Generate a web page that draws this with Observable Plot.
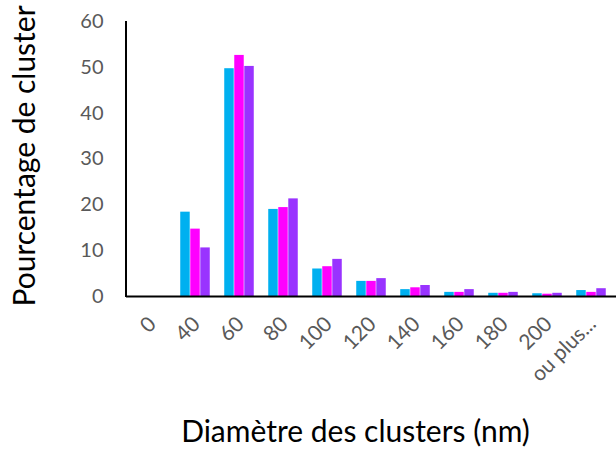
<!DOCTYPE html>
<html>
<head>
<meta charset="utf-8">
<script src="https://cdn.jsdelivr.net/npm/d3@7"></script>
<script src="https://cdn.jsdelivr.net/npm/@observablehq/plot@0.6"></script>
<style>
  body { margin: 0; background: #fff; }
  #chart svg { font-family: Lato, "Open Sans", sans-serif; }
</style>
</head>
<body>
<div id="chart"></div>
<script>
const categories = ["0", "40", "60", "80", "100", "120", "140", "160", "180", "200", "ou plus..."];
const seriesA = [0, 18.4, 49.7, 19.0, 6.0, 3.3, 1.5, 0.9, 0.7, 0.6, 1.3];
const seriesB = [0, 14.7, 52.6, 19.4, 6.5, 3.3, 1.9, 0.9, 0.7, 0.5, 0.9];
const seriesC = [0, 10.6, 50.2, 21.3, 8.1, 3.9, 2.4, 1.5, 0.9, 0.7, 1.7];
const yTicks = [0, 10, 20, 30, 40, 50, 60];
const xTitle = "Diamètre des clusters (nm)";
const yTitle = "Pourcentage de cluster";

const colors = ["#00B0F0", "#FF00FF", "#9933FF"];
const mk = (vals) => categories.map((c, i) => ({cat: c, v: vals[i]}));
const dataA = mk(seriesA), dataB = mk(seriesB), dataC = mk(seriesC);

const W = 616, H = 459, mL = 126, mR = 0, mT = 21, mB = 163;
const bw = (W - mL - mR) / categories.length;
const barW = bw * 0.225;
const groupW = barW * 3;
const start = (bw - groupW) / 2;
function insets(k) {
  const l = start + k * barW;
  return {insetLeft: l, insetRight: bw - l - barW};
}

const plot = Plot.plot({
  width: W, height: H,
  marginLeft: mL, marginRight: mR, marginTop: mT, marginBottom: mB,
  style: {fontFamily: "Lato, 'Open Sans', sans-serif", background: "#fff"},
  x: {type: "band", domain: categories, padding: 0},
  y: {domain: [0, 60]},
  marks: [
    Plot.barY(dataA, {x: "cat", y: "v", fill: colors[0], ...insets(0)}),
    Plot.barY(dataB, {x: "cat", y: "v", fill: colors[1], ...insets(1)}),
    Plot.barY(dataC, {x: "cat", y: "v", fill: colors[2], ...insets(2)}),
    Plot.ruleY([0], {stroke: "#000", strokeWidth: 2}),
    Plot.axisY({ticks: yTicks, tickSize: 0, tickPadding: 23, label: null, fontSize: 20, fill: "#595959", tickFormat: d => String(d)}),
    Plot.axisX({tickSize: 0, tickPadding: 24, dx: 1, tickRotate: -45, label: null, fontSize: 21, fill: "#595959"}),
    Plot.text([yTitle], {frameAnchor: "left", textAnchor: "middle", dx: -101, dy: -3, rotate: -90, fontSize: 30, fill: "#000", text: d => d}),
    Plot.text([xTitle], {frameAnchor: "bottom", textAnchor: "middle", dx: -16, dy: 145, fontSize: 30, fill: "#000", text: d => d})
  ]
});
document.getElementById("chart").appendChild(plot);

// vertical axis line, placed with the plot's own scales
const svg = d3.select(plot);
const yr = plot.scale("y").range;
svg.append("line")
  .attr("x1", mL).attr("x2", mL)
  .attr("y1", yr[0] + 1).attr("y2", yr[1])
  .attr("stroke", "#000").attr("stroke-width", 2);
</script>
</body>
</html>
